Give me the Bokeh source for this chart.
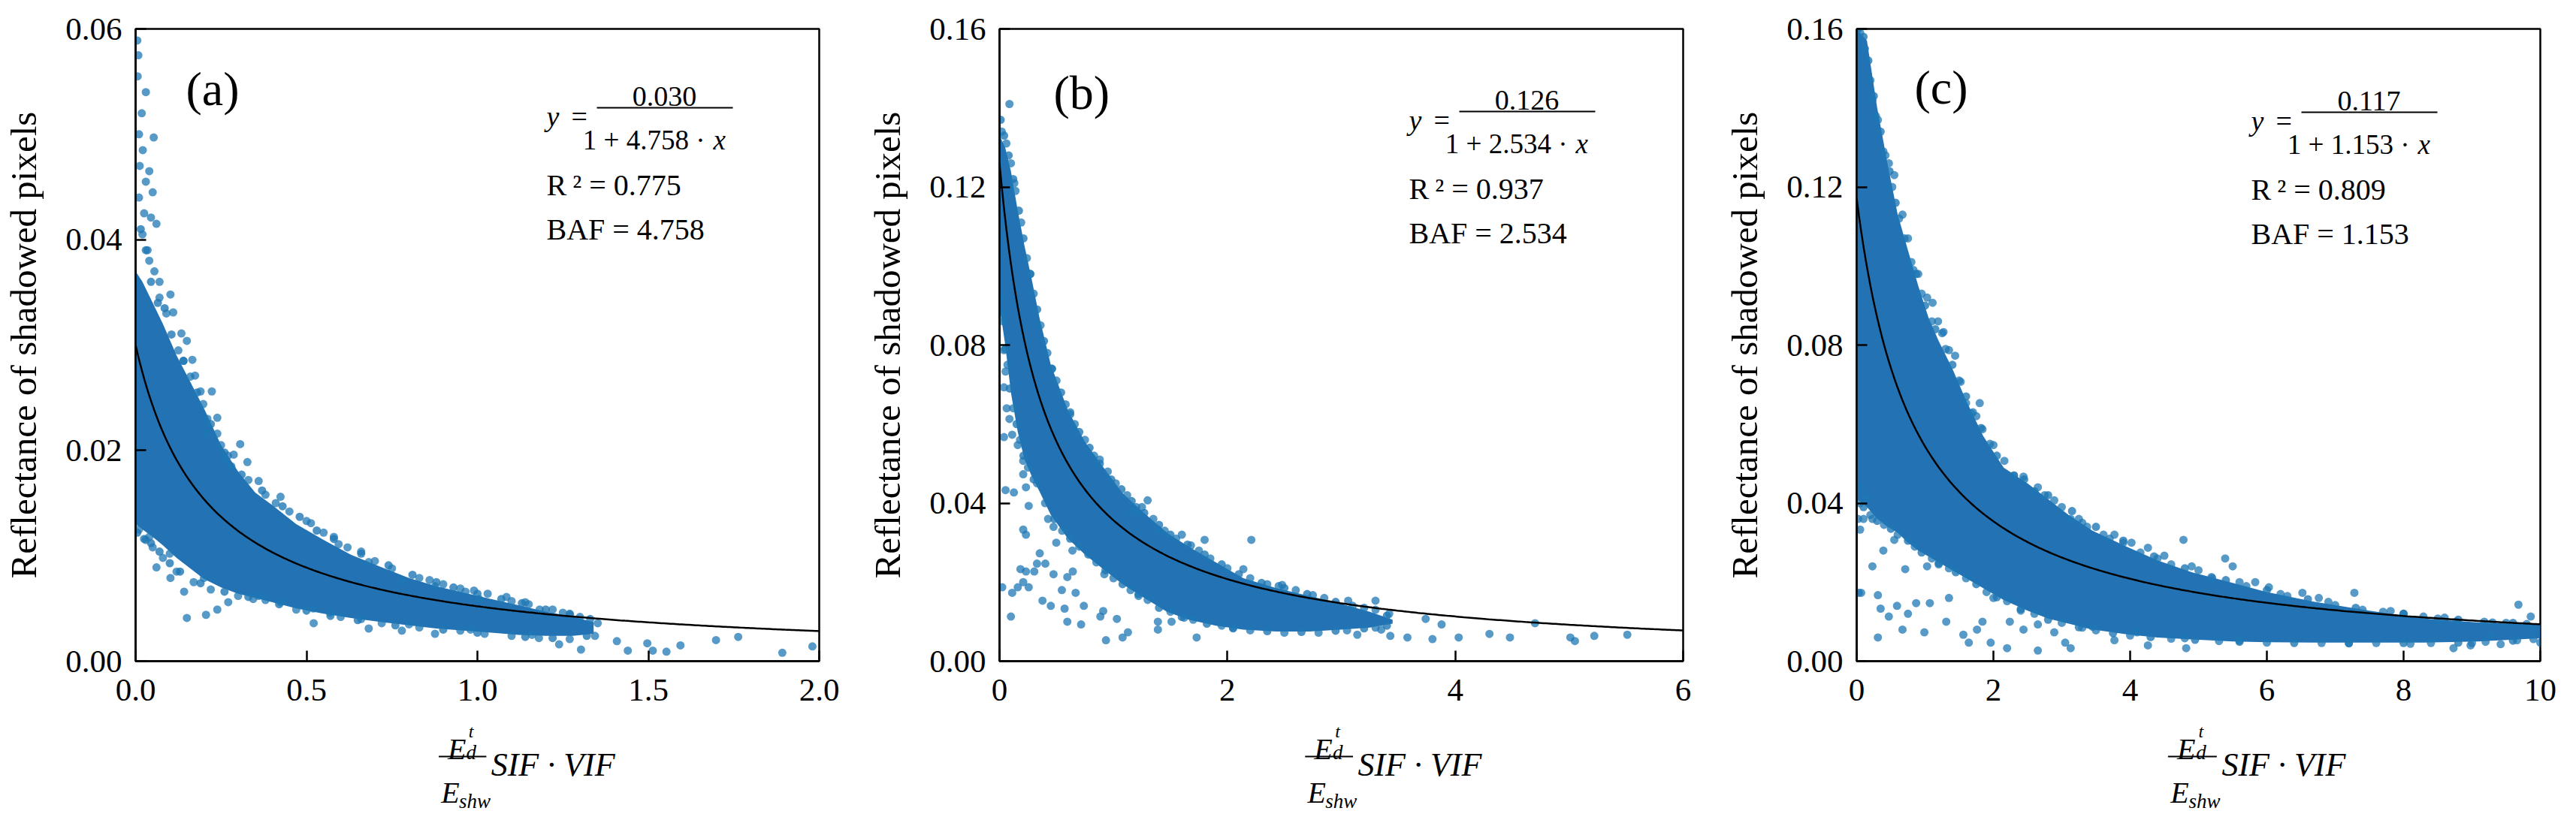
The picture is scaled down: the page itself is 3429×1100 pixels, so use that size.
import numpy as np
from bokeh.plotting import figure
from bokeh.layouts import row, column
from bokeh.models import Range1d, FixedTicker, PrintfTickFormatter, Label, Arrow
from bokeh.embed import file_html
from bokeh.resources import INLINE

FONT = "Liberation Serif"
FW, FH = 910, 842
LB = 180          # left border of every panel
BOT = 76          # bottom border (tick labels)
TF_H = 128        # height of the x-title strip
PT_COLOR = "#1f77b4"
CORE_COLOR = "#2373b4"

# ---------------- Panel (a) ----------------
a_xmax, a_ymax = 2.0, 0.06
a_xticks = [0.0, 0.5, 1.0, 1.5, 2.0]
a_yticks = [0.00, 0.02, 0.04, 0.06]
a_fit = [0.030, 4.758]
a_r2 = "0.775"
a_core_x = [0.0, 0.02, 0.05, 0.08, 0.12, 0.16, 0.2, 0.25, 0.3, 0.35, 0.4, 0.47, 0.55, 0.63, 0.72, 0.8, 0.88, 0.96, 1.04, 1.12, 1.2, 1.28, 1.34]
a_core_hi = [0.037, 0.036, 0.034, 0.032, 0.029, 0.0265, 0.024, 0.0205, 0.018, 0.016, 0.0148, 0.013, 0.0115, 0.0101, 0.0089, 0.0079, 0.0071, 0.0065, 0.0059, 0.0053, 0.0047, 0.0042, 0.0037]
a_core_lo = [0.013, 0.0125, 0.0118, 0.011, 0.0098, 0.0088, 0.0078, 0.007, 0.0064, 0.006, 0.0056, 0.005, 0.0045, 0.0041, 0.0037, 0.0034, 0.0031, 0.0029, 0.0027, 0.0025, 0.0024, 0.0024, 0.0026]
a_pts_x = [0.005, 0.008, 0.006, 0.03, 0.018, 0.01, 0.021, 0.053, 0.012, 0.03, 0.01, 0.045, 0.061, 0.02, 0.035, 0.04,
           0.05, 0.04, 0.055, 0.07, 0.025,
           0.102, 0.11, 0.134, 0.15, 0.166, 0.174, 0.19, 0.223, 0.198, 0.239, 0.206, 0.239, 0.306, 0.327, 0.287, 0.263,
           0.36, 0.424, 0.513, 0.594, 0.682, 0.779, 0.876, 0.965, 1.005, 1.085, 1.182, 1.271, 1.352,
           0.09, 0.125, 0.16, 0.21, 0.25, 0.28, 0.33, 0.38, 0.45, 0.5, 0.55, 0.62, 0.7, 0.75, 0.83, 0.9, 0.95, 1.03, 1.1, 1.15, 1.22, 1.3, 1.25,
           0.061, 0.102, 0.142, 0.15, 0.206, 0.239, 0.271, 0.344, 0.424, 0.521, 0.569, 0.682, 0.779, 0.876, 1.021, 1.239, 1.303, 1.344,
           0.01, 0.03, 0.05, 0.08, 0.12, 0.17, 0.22, 0.3, 0.38, 0.47, 0.6, 0.72, 0.83, 0.95, 1.1, 1.18, 1.27,
           0.07, 0.14, 0.27, 0.41, 0.58, 0.66, 0.86, 0.99, 1.14, 0.04, 0.1, 0.2, 0.36, 0.52, 0.66, 0.8, 0.98, 1.16,
           1.408, 1.44, 1.497, 1.513, 1.553, 1.594, 1.698, 1.763, 1.892, 1.98]
a_pts_y = [0.0589, 0.0575, 0.0555, 0.054, 0.052, 0.050, 0.0485, 0.0497, 0.047, 0.0455, 0.044, 0.0421, 0.0415, 0.0405, 0.039, 0.038,
           0.0445, 0.0465, 0.037, 0.036, 0.0425,
           0.0348, 0.0331, 0.0311, 0.0304, 0.0286, 0.0271, 0.0256, 0.0256, 0.0244, 0.0231, 0.0216, 0.0216, 0.0206, 0.0189, 0.0196, 0.0191,
           0.0171, 0.0156, 0.0131, 0.0111, 0.0094, 0.0076, 0.0071, 0.0066, 0.0059, 0.0061, 0.0049, 0.0044, 0.0036,
           0.033, 0.0295, 0.027, 0.023, 0.0205, 0.0185, 0.0172, 0.0158, 0.0142, 0.0133, 0.0122, 0.0108, 0.0095, 0.0088, 0.0079, 0.0073, 0.0069, 0.0064, 0.0057, 0.0054, 0.0049, 0.0042, 0.0046,
           0.0089, 0.0079, 0.0066, 0.0041, 0.0044, 0.0049, 0.0056, 0.0059, 0.0056, 0.0036, 0.0046, 0.0031, 0.0029, 0.0026, 0.0026, 0.0016, 0.0011, 0.0024,
           0.0125, 0.0115, 0.0108, 0.0098, 0.0085, 0.0075, 0.0068, 0.0062, 0.0058, 0.0049, 0.0042, 0.0036, 0.0032, 0.0029, 0.0024, 0.0022, 0.0021,
           0.0345, 0.0285, 0.0195, 0.0150, 0.0118, 0.0104, 0.0077, 0.0067, 0.0056, 0.0118, 0.0102, 0.0079, 0.0062, 0.0050, 0.0040, 0.0035, 0.0030, 0.0025,
           0.0019, 0.0010, 0.0017, 0.0010, 0.0009, 0.0015, 0.0020, 0.0023, 0.0008, 0.0014]
a_edge_x = [0.015, 0.03, 0.045, 0.065, 0.085, 0.105, 0.14, 0.18, 0.22, 0.26, 0.31, 0.37, 0.43, 0.48, 0.53, 0.58, 0.66, 0.74, 0.81, 0.88, 0.93, 1.0, 1.07, 1.13, 1.2, 1.27, 1.33,
            0.005, 0.025, 0.045, 0.07, 0.1, 0.13, 0.19, 0.26, 0.33, 0.42, 0.5, 0.57, 0.65, 0.76, 0.9, 1.0, 1.14, 1.22, 1.32]
a_edge_y = [0.041, 0.039, 0.036, 0.034, 0.0335, 0.031, 0.0285, 0.0255, 0.0225, 0.0198, 0.0177, 0.0162, 0.0147, 0.0137, 0.0124, 0.0116, 0.0102, 0.0091, 0.0082, 0.0075, 0.0070, 0.0064, 0.0059, 0.0055, 0.0049, 0.0045, 0.0040,
            0.0122, 0.0116, 0.0112, 0.0104, 0.0093, 0.0085, 0.0074, 0.0066, 0.0061, 0.0054, 0.0048, 0.0043, 0.0039, 0.0034, 0.0030, 0.0027, 0.0023, 0.0022, 0.0024]

# ---------------- Panel (b) ----------------
b_xmax, b_ymax = 6.0, 0.16
b_xticks = [0, 2, 4, 6]
b_yticks = [0.00, 0.04, 0.08, 0.12, 0.16]
b_fit = [0.126, 2.534]
b_r2 = "0.937"
b_core_x = [0.0, 0.05, 0.1, 0.16, 0.22, 0.28, 0.35, 0.45, 0.6, 0.75, 0.9, 1.08, 1.27, 1.47, 1.66, 1.9, 2.14, 2.43, 2.72, 3.0, 3.25, 3.45]
b_core_hi = [0.133, 0.130, 0.124, 0.114, 0.105, 0.097, 0.087, 0.075, 0.0635, 0.0555, 0.0495, 0.0425, 0.0375, 0.0325, 0.029, 0.025, 0.021, 0.0185, 0.0165, 0.0145, 0.0125, 0.0105]
b_core_lo = [0.090, 0.080, 0.068, 0.058, 0.051, 0.047, 0.043, 0.037, 0.031, 0.027, 0.0235, 0.0195, 0.016, 0.0125, 0.0105, 0.009, 0.008, 0.0075, 0.0075, 0.008, 0.0085, 0.0095]
b_pts_x = [0.087,
           0.024, 0.039, 0.053, 0.039, 0.063, 0.087, 0.111, 0.16, 0.039, 0.208, 0.208, 0.053, 0.126, 0.232, 0.256, 0.426, 0.474,
           0.208, 0.232, 0.498, 0.353, 0.402, 0.329, 0.184, 0.232, 0.305, 0.474, 0.595, 0.643, 0.024, 0.111, 0.16, 0.256, 0.208,
           0.377, 0.45, 0.547, 0.571, 0.668, 0.74, 0.1, 0.595, 0.716, 0.885, 0.934, 1.03, 1.08, 1.127, 0.91, 1.39, 1.51, 1.73, 1.39,
           1.3, 1.22, 1.15, 1.39, 1.68, 1.8, 2.14, 2.21, 2.48, 2.75, 3.06, 3.3, 3.42,
           3.58, 3.74, 3.8, 3.88, 4.03, 4.3, 4.48, 4.7, 5.01, 5.05, 5.22, 5.51, 3.43, 3.35, 3.14,
           0.02, 0.06, 0.1, 0.14, 0.19, 0.24, 0.3, 0.36, 0.42, 0.5, 0.58, 0.66, 0.75, 0.83, 0.95, 1.02, 1.12, 1.2, 1.35, 1.45, 1.55, 1.75, 1.85, 2.0, 2.2, 2.35, 2.6, 2.85, 3.1, 3.3,
           0.03, 0.07, 0.12, 0.18, 0.25, 0.4, 0.55, 0.7, 0.85, 1.0, 1.15, 1.3, 1.5, 1.7, 1.95, 2.2, 2.5, 2.8, 3.05, 3.3,
           0.13, 0.27, 0.46, 0.62, 0.88, 1.25, 1.6, 2.45, 0.33, 0.64, 0.92, 1.22, 1.62, 2.05]
b_pts_y = [0.141,
           0.088, 0.0787, 0.0733, 0.0693, 0.064, 0.0613, 0.0573, 0.0547, 0.0567, 0.0507, 0.0473, 0.0433, 0.0427, 0.044, 0.0393, 0.036, 0.034,
           0.0333, 0.032, 0.030, 0.0273, 0.0247, 0.0247, 0.0233, 0.0227, 0.0227, 0.022, 0.0213, 0.0227, 0.0187, 0.0173, 0.0187, 0.0187, 0.020,
           0.0153, 0.014, 0.018, 0.0133, 0.0173, 0.014, 0.0113, 0.010, 0.0093, 0.0113, 0.0053, 0.0107, 0.006, 0.0073, 0.0127, 0.008, 0.010, 0.006, 0.010,
           0.0407, 0.0373, 0.038, 0.0333, 0.0293, 0.0307, 0.0233, 0.0307, 0.0193, 0.0167, 0.0153, 0.0153, 0.012,
           0.006, 0.0107, 0.0056, 0.0093, 0.006, 0.0069, 0.006, 0.0096, 0.006, 0.0051, 0.0064, 0.0067, 0.0064, 0.008, 0.0067,
           0.134, 0.131, 0.126, 0.119, 0.111, 0.102, 0.093, 0.085, 0.078, 0.071, 0.065, 0.060, 0.056, 0.052, 0.048, 0.045, 0.042, 0.039, 0.036, 0.033, 0.031, 0.028, 0.026, 0.0235, 0.021, 0.0195, 0.018, 0.016, 0.014, 0.013,
           0.086, 0.075, 0.064, 0.056, 0.049, 0.040, 0.033, 0.029, 0.025, 0.021, 0.018, 0.0155, 0.0125, 0.0105, 0.009, 0.0078, 0.0072, 0.0072, 0.0078, 0.0085,
           0.121, 0.098, 0.074, 0.063, 0.051, 0.039, 0.032, 0.019, 0.045, 0.028, 0.022, 0.0165, 0.011, 0.0085]
b_edge_x = [0.01, 0.04, 0.08, 0.12, 0.17, 0.21, 0.27, 0.33, 0.39, 0.46, 0.54, 0.62, 0.7, 0.79, 0.88, 0.98, 1.07, 1.16, 1.27, 1.4, 1.5, 1.65, 1.8, 1.95, 2.1, 2.3, 2.5, 2.7, 2.95, 3.2, 3.4,
            0.01, 0.05, 0.09, 0.15, 0.21, 0.3, 0.48, 0.62, 0.78, 0.93, 1.08, 1.22, 1.4, 1.6, 1.82, 2.05, 2.35, 2.65, 2.95, 3.2, 3.4]
b_edge_y = [0.137, 0.133, 0.128, 0.122, 0.114, 0.107, 0.098, 0.089, 0.081, 0.074, 0.068, 0.0625, 0.058, 0.054, 0.050, 0.046, 0.0435, 0.0405, 0.0375, 0.0345, 0.032, 0.0295, 0.027, 0.0245, 0.022, 0.0198, 0.0185, 0.017, 0.015, 0.0135, 0.0115,
            0.092, 0.079, 0.069, 0.060, 0.052, 0.046, 0.036, 0.031, 0.027, 0.023, 0.0195, 0.017, 0.0135, 0.0112, 0.0095, 0.0083, 0.0076, 0.0074, 0.0077, 0.0083, 0.0090]

# ---------------- Panel (c) ----------------
c_xmax, c_ymax = 10.0, 0.16
c_xticks = [0, 2, 4, 6, 8, 10]
c_yticks = [0.00, 0.04, 0.08, 0.12, 0.16]
c_fit = [0.117, 1.153]
c_r2 = "0.809"
c_core_x = [0.0, 0.15, 0.3, 0.45, 0.6, 0.75, 0.9, 1.05, 1.2, 1.4, 1.6, 1.85, 2.15, 2.5, 2.8, 3.1, 3.45, 3.95, 4.4, 4.9, 5.5, 6.0, 6.7, 7.5, 8.3, 9.1, 10.0]
c_core_hi = [0.16, 0.157, 0.14, 0.126, 0.113, 0.104, 0.095, 0.087, 0.081, 0.074, 0.066, 0.057, 0.049, 0.045, 0.041, 0.037, 0.033, 0.029, 0.0255, 0.0225, 0.0198, 0.0175, 0.015, 0.0128, 0.0108, 0.0098, 0.0092]
c_core_lo = [0.041, 0.039, 0.036, 0.034, 0.0325, 0.030, 0.028, 0.0265, 0.025, 0.023, 0.021, 0.0185, 0.0155, 0.0128, 0.0108, 0.0095, 0.008, 0.0068, 0.006, 0.0055, 0.005, 0.0048, 0.0047, 0.0047, 0.0047, 0.005, 0.0058]
c_pts_x = [0.065, 0.31, 0.35, 0.47, 0.31, 0.59, 0.67, 0.75, 0.87, 0.99, 1.07, 1.31, 1.35, 1.56, 1.64, 1.76, 1.84, 1.96, 2.0, 2.2,
           2.24, 2.44, 2.65, 2.65, 2.89, 3.05, 3.13, 3.45, 3.77, 4.1, 4.26, 4.82, 0.23, 0.39, 0.55, 0.71, 1.03, 0.23, 0.1, 0.145,
           0.23, 0.31, 0.39, 0.47, 0.55, 0.67, 0.75, 0.83, 1.03, 1.11, 1.19, 1.27, 1.35, 1.44, 1.52, 1.6, 1.8, 1.68, 1.84, 2.0,
           2.16, 2.44, 2.65, 2.89, 3.13, 3.37, 3.61, 3.77, 4.02, 4.26, 4.5, 4.78, 4.9, 5.19, 5.39, 5.5, 5.83, 6.03, 6.52, 6.76,
           7.28, 7.81, 8.29, 8.77, 9.18, 9.68, 9.86, 9.89, 10.0, 9.66, 9.42, 9.26, 8.98, 8.73,
           0.02, 0.05, 0.03, 0.065,
           0.05, 0.12, 0.2, 0.28, 0.42, 0.52, 0.62, 0.8, 0.95, 1.1, 1.3, 1.5, 1.7, 1.95, 2.3, 2.6, 3.0, 3.3, 3.7, 4.15, 4.6, 5.2, 5.7, 6.3, 7.0, 7.7, 8.5, 9.3, 9.8,
           0.05, 0.2, 0.4, 0.6, 0.85, 1.1, 1.35, 1.6, 1.9, 2.2, 2.6, 3.0, 3.5, 4.0, 4.6, 5.3, 6.0, 6.8, 7.6, 8.4, 9.2, 9.9,
           0.9, 1.25, 1.75, 2.3, 2.75, 3.25, 3.9, 4.4, 5.0, 5.6, 6.2, 6.9, 7.4, 8.0, 8.6, 9.5, 1.2, 2.4, 3.3, 4.8, 5.6, 7.2, 8.1, 9.0]
c_pts_y = [0.0173, 0.0167, 0.0133, 0.0113, 0.006, 0.014, 0.008, 0.012, 0.0147, 0.0073, 0.0147, 0.010, 0.016, 0.0067, 0.0047, 0.008, 0.010, 0.0047, 0.016, 0.0033,
           0.010, 0.008, 0.0027, 0.0093, 0.0073, 0.0047, 0.0033, 0.0087, 0.0053, 0.0073, 0.004, 0.0033, 0.024, 0.028, 0.0307, 0.0233, 0.024, 0.036, 0.036, 0.0413,
           0.142, 0.137, 0.129, 0.126, 0.123, 0.113, 0.107, 0.099, 0.092, 0.0907, 0.086, 0.0833, 0.0787, 0.0773, 0.0707, 0.0653, 0.0653, 0.0627, 0.0587, 0.0547,
           0.0507, 0.0467, 0.044, 0.0407, 0.036, 0.034, 0.032, 0.032, 0.030, 0.0287, 0.0267, 0.0307, 0.024, 0.0213, 0.026, 0.024, 0.020, 0.0187, 0.0173, 0.016,
           0.0173, 0.0127, 0.0113, 0.010, 0.010, 0.0143, 0.0113, 0.008, 0.0047, 0.0053, 0.0043, 0.0064, 0.004, 0.0033,
           0.036, 0.0333, 0.0173, 0.044,
           0.159, 0.155, 0.147, 0.138, 0.128, 0.12, 0.112, 0.101, 0.093, 0.086, 0.079, 0.071, 0.063, 0.055, 0.047, 0.043, 0.039, 0.035, 0.031, 0.0275, 0.0245, 0.021, 0.019, 0.0165, 0.0142, 0.0125, 0.0108, 0.0098, 0.0094,
           0.040, 0.037, 0.0345, 0.032, 0.029, 0.026, 0.0235, 0.021, 0.0175, 0.0152, 0.012, 0.0097, 0.0078, 0.0065, 0.0057, 0.0051, 0.0047, 0.0046, 0.0046, 0.0046, 0.0049, 0.0056,
           0.098, 0.083, 0.062, 0.047, 0.042, 0.036, 0.030, 0.026, 0.023, 0.020, 0.017, 0.015, 0.013, 0.012, 0.011, 0.0097, 0.0245, 0.0128, 0.0085, 0.0058, 0.0052, 0.0045, 0.0044, 0.0046]
c_edge_x = [0.02, 0.1, 0.17, 0.25, 0.35, 0.48, 0.57, 0.7, 0.87, 1.0, 1.15, 1.4, 1.6, 1.82, 2.05, 2.45, 2.8, 3.15, 3.5, 3.9, 4.35, 4.8, 5.4, 6.0, 6.6, 7.3, 8.0, 8.8, 9.6,
            0.1, 0.3, 0.5, 0.75, 0.95, 1.2, 1.45, 1.75, 2.05, 2.4, 2.8, 3.25, 3.75, 4.3, 4.95, 5.6, 6.4, 7.2, 8.0, 8.8, 9.6]
c_edge_y = [0.160, 0.158, 0.152, 0.143, 0.134, 0.124, 0.116, 0.107, 0.098, 0.090, 0.084, 0.075, 0.067, 0.059, 0.052, 0.046, 0.042, 0.038, 0.034, 0.0305, 0.0265, 0.0235, 0.0205, 0.018, 0.0157, 0.0135, 0.012, 0.0105, 0.0097,
            0.039, 0.0355, 0.0335, 0.0305, 0.0275, 0.0248, 0.0225, 0.0195, 0.0162, 0.0132, 0.0105, 0.0086, 0.0071, 0.0061, 0.0054, 0.0049, 0.0046, 0.0046, 0.0046, 0.0047, 0.0052]

X_TITLE_MAIN = "SIF \u00b7 VIF"
Y_TITLE = "Reflectance of shadowed pixels"


def make_panel(tag, xmax, ymax, xticks, yticks, xfmt, fit, r2, core_x, core_lo, core_hi,
               pts_x, pts_y, edge_x, edge_y, right_border, lab_left, lab_base, x0, dy):
    p = figure(frame_width=FW, frame_height=FH, output_backend="svg", toolbar_location=None,
               x_range=Range1d(0, xmax), y_range=Range1d(0, ymax),
               min_border_left=LB, min_border_right=right_border,
               min_border_top=38, min_border_bottom=BOT)
    p.grid.visible = False
    p.background_fill_color = "white"
    p.border_fill_color = "white"
    p.outline_line_color = "black"
    p.outline_line_width = 2.5
    p.outline_line_alpha = 1.0

    for ax in (p.xaxis[0], p.yaxis[0]):
        ax.axis_line_color = "black"
        ax.axis_line_width = 2.5
        ax.major_tick_line_color = "black"
        ax.major_tick_line_width = 2.5
        ax.major_tick_in = 14
        ax.major_tick_out = 0
        ax.minor_tick_line_color = None
        ax.major_label_text_font = FONT
        ax.major_label_text_font_size = "43px"
        ax.major_label_text_color = "black"
    p.xaxis.ticker = FixedTicker(ticks=xticks)
    p.yaxis.ticker = FixedTicker(ticks=yticks)
    p.xaxis.formatter = PrintfTickFormatter(format=xfmt)
    p.yaxis.formatter = PrintfTickFormatter(format="%.2f")
    p.xaxis.major_label_standoff = 24
    p.yaxis.major_label_standoff = 18
    p.yaxis.axis_label = Y_TITLE
    p.yaxis.axis_label_text_font = FONT
    p.yaxis.axis_label_text_font_size = "49px"
    p.yaxis.axis_label_text_font_style = "normal"
    p.yaxis.axis_label_text_color = "black"
    p.yaxis.axis_label_standoff = 25

    # data marks
    p.varea(x=core_x, y1=core_lo, y2=core_hi, fill_color=CORE_COLOR, fill_alpha=1.0)
    p.scatter(edge_x, edge_y, size=11, fill_color=PT_COLOR, fill_alpha=0.8, line_color=None)
    p.scatter(pts_x, pts_y, size=11, fill_color=PT_COLOR, fill_alpha=0.75, line_color=None)
    xs = np.linspace(0, xmax, 300)
    p.line(xs, fit[0] / (1 + fit[1] * xs), line_color="black", line_width=2.5)

    def X(off):
        return xmax * off / FW

    def Y(off):
        return ymax * (1 - off / FH)

    def lab(text, xo, yo, size, italic=False, align="left"):
        p.add_layout(Label(x=X(xo), y=Y(yo), text=text, text_font=FONT,
                           text_font_size=size, text_font_style="italic" if italic else "normal",
                           text_align=align, text_baseline="alphabetic", text_color="black"))

    # panel tag
    lab(tag, lab_left, lab_base, "64px")
    # equation
    lab("y", x0 - 67, 116 + dy, "38px", italic=True)
    lab("=", x0 - 34, 116 + dy, "38px")
    lab("%.3f" % fit[0], x0 + 90, 90 + dy, "38px", align="center")
    p.add_layout(Arrow(start=None, end=None, x_start=X(x0), y_start=Y(105 + dy),
                       x_end=X(x0 + 181), y_end=Y(105 + dy), line_color="black", line_width=2))
    lab("1 + %.3f \u00b7" % fit[1], x0 + 144, 148 + dy, "37px", align="right")
    lab("x", x0 + 155, 148 + dy, "37px", italic=True)
    lab("R\u2009\u00b2 = " + r2, x0 - 67, 208 + dy, "40px")
    lab("BAF = %.3f" % fit[1], x0 - 67, 267 + dy, "40px")

    # x-axis title strip below the panel (pixel coordinates, y downward)
    W = LB + FW + right_border
    tf = figure(width=W, height=TF_H, output_backend="svg", toolbar_location=None,
                x_range=Range1d(0, W), y_range=Range1d(TF_H, 0),
                x_axis_type=None, y_axis_type=None,
                min_border_left=0, min_border_right=0, min_border_top=0, min_border_bottom=0)
    tf.grid.visible = False
    tf.outline_line_color = None
    tf.background_fill_color = "white"
    tf.border_fill_color = "white"
    cx = LB + FW / 2

    def tl(text, xo, yo, size):
        tf.add_layout(Label(x=xo, y=yo, text=text, text_font=FONT, text_font_size=size,
                            text_font_style="italic", text_align="left",
                            text_baseline="alphabetic", text_color="black"))

    tl("E", cx - 110, 41, "40px")
    tl("t", cx - 75, 17, "24px")
    tl("d", cx - 79, 45, "27px")
    tf.segment(x0=[cx - 125], y0=[51], x1=[cx - 45], y1=[51], line_color="black", line_width=2.2)
    tl(X_TITLE_MAIN, cx - 37, 62, "44px")
    tl("E", cx - 121, 99, "40px")
    tl("shw", cx - 91, 110, "27px")
    return column(p, tf, spacing=0)


pa = make_panel("(a)", a_xmax, a_ymax, a_xticks, a_yticks, "%.1f", a_fit, a_r2,
                a_core_x, a_core_lo, a_core_hi, a_pts_x, a_pts_y, a_edge_x, a_edge_y, 60, 67, 80, 614, 0)
pb = make_panel("(b)", b_xmax, b_ymax, b_xticks, b_yticks, "%d", b_fit, b_r2,
                b_core_x, b_core_lo, b_core_hi, b_pts_x, b_pts_y, b_edge_x, b_edge_y, 51, 72, 85, 612, 5)
pc = make_panel("(c)", c_xmax, c_ymax, c_xticks, c_yticks, "%d", c_fit, c_r2,
                c_core_x, c_core_lo, c_core_hi, c_pts_x, c_pts_y, c_edge_x, c_edge_y, 30, 77, 78, 592, 6)

layout = row(pa, pb, pc, spacing=0)
open("out.html", "w").write(file_html(layout, INLINE))
